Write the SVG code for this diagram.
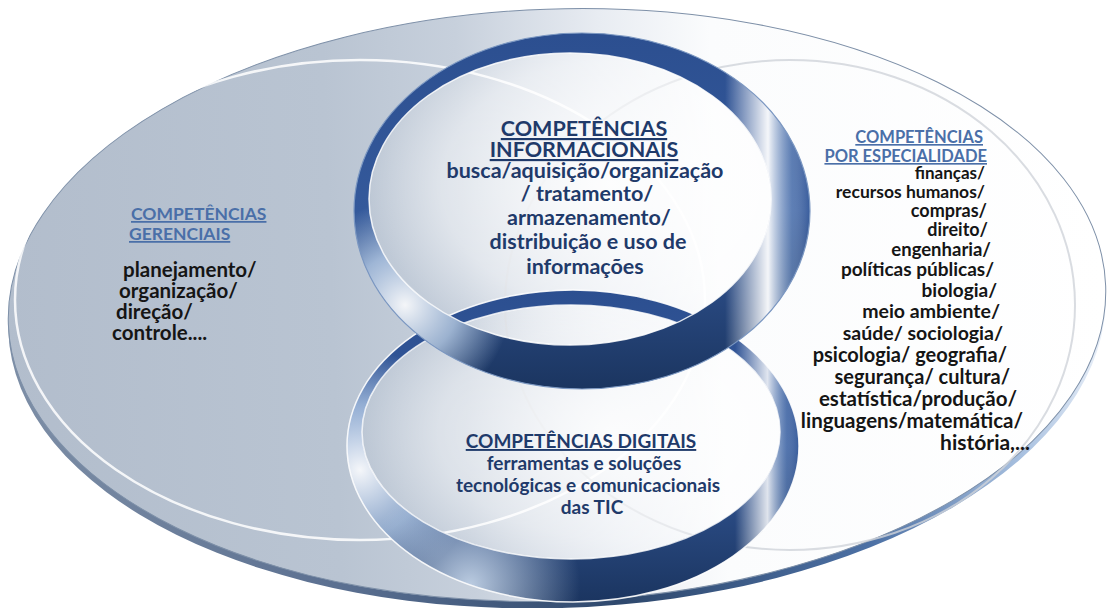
<svg xmlns="http://www.w3.org/2000/svg" width="1107" height="608" viewBox="0 0 1107 608">
<style>
  .t { font-family: Lato, "Liberation Sans", sans-serif; font-weight: 700; }
  .navy { fill: #1f3a6a; }
  .steel { fill: #4a6fa8; }
  .blk { fill: #151515; }
  .mid { text-anchor: middle; }
  .end { text-anchor: end; }
  .u { text-decoration: underline; }
</style>
<defs>
  <linearGradient id="discSide" x1="0" y1="0" x2="1" y2="0">
    <stop offset="0" stop-color="#7d8ea6"/>
    <stop offset="0.3" stop-color="#5a6f90"/>
    <stop offset="0.55" stop-color="#2e486d"/>
    <stop offset="0.78" stop-color="#4d71a5"/>
    <stop offset="0.92" stop-color="#a9c1e0"/>
    <stop offset="1" stop-color="#eef3fa"/>
  </linearGradient>
  <linearGradient id="discTop" gradientUnits="userSpaceOnUse" x1="0" y1="0" x2="1107" y2="0">
    <stop offset="0" stop-color="#b2bdcc"/>
    <stop offset="0.3" stop-color="#b9c4d2"/>
    <stop offset="0.42" stop-color="#c7d0dc"/>
    <stop offset="0.55" stop-color="#e8ecf2"/>
    <stop offset="0.65" stop-color="#fbfcfd"/>
    <stop offset="1" stop-color="#ffffff"/>
  </linearGradient>
  <radialGradient id="glowTop" cx="0.6" cy="0.45" r="0.6">
    <stop offset="0" stop-color="#ffffff" stop-opacity="0.9"/>
    <stop offset="0.7" stop-color="#ffffff" stop-opacity="0.45"/>
    <stop offset="1" stop-color="#ffffff" stop-opacity="0"/>
  </radialGradient>
  <radialGradient id="glowBot" cx="0.6" cy="0.5" r="0.6">
    <stop offset="0" stop-color="#ffffff" stop-opacity="0.85"/>
    <stop offset="0.7" stop-color="#ffffff" stop-opacity="0.4"/>
    <stop offset="1" stop-color="#ffffff" stop-opacity="0"/>
  </radialGradient>
  <linearGradient id="navyV" x1="0" y1="0" x2="0" y2="1">
    <stop offset="0" stop-color="#2c4f90"/>
    <stop offset="0.5" stop-color="#34599b"/>
    <stop offset="1" stop-color="#1b3560"/>
  </linearGradient>
  <radialGradient id="hlTopLL" gradientUnits="userSpaceOnUse" cx="405" cy="305" r="105">
    <stop offset="0" stop-color="#ffffff" stop-opacity="0.95"/>
    <stop offset="0.5" stop-color="#c4d8ef" stop-opacity="0.75"/>
    <stop offset="1" stop-color="#c4d8ef" stop-opacity="0"/>
  </radialGradient>
  <linearGradient id="hlTopR" gradientUnits="userSpaceOnUse" x1="725" y1="0" x2="811" y2="0">
    <stop offset="0" stop-color="#ffffff" stop-opacity="0"/>
    <stop offset="0.5" stop-color="#ffffff" stop-opacity="0.95"/>
    <stop offset="0.78" stop-color="#9db8dc" stop-opacity="0.4"/>
    <stop offset="1" stop-color="#ffffff" stop-opacity="0"/>
  </linearGradient>
  <radialGradient id="hlBotL" gradientUnits="userSpaceOnUse" cx="360" cy="470" r="120">
    <stop offset="0" stop-color="#ffffff" stop-opacity="0.95"/>
    <stop offset="0.55" stop-color="#bcd2ec" stop-opacity="0.7"/>
    <stop offset="1" stop-color="#bcd2ec" stop-opacity="0"/>
  </radialGradient>
  <radialGradient id="hlBotB" gradientUnits="userSpaceOnUse" cx="470" cy="585" r="110">
    <stop offset="0" stop-color="#d7e6f7" stop-opacity="0.85"/>
    <stop offset="1" stop-color="#d7e6f7" stop-opacity="0"/>
  </radialGradient>
  <linearGradient id="hlBotR" gradientUnits="userSpaceOnUse" x1="735" y1="0" x2="800" y2="0">
    <stop offset="0" stop-color="#ffffff" stop-opacity="0"/>
    <stop offset="0.5" stop-color="#ffffff" stop-opacity="0.85"/>
    <stop offset="0.8" stop-color="#9db8dc" stop-opacity="0.3"/>
    <stop offset="1" stop-color="#ffffff" stop-opacity="0"/>
  </linearGradient>
  <path id="ringTop" fill-rule="evenodd" d="M354,211 a228,178 0 1,0 456,0 a228,178 0 1,0 -456,0 Z M369,199 a201,146 0 1,0 402,0 a201,146 0 1,0 -402,0 Z"/>
  <path id="ringBot" fill-rule="evenodd" d="M347,446 a226,156 0 1,0 452,0 a226,156 0 1,0 -452,0 Z M362,432 a209,127 0 1,0 418,0 a209,127 0 1,0 -418,0 Z"/>
</defs>

<rect width="1107" height="608" fill="#ffffff"/>

<g id="disc">
  <ellipse cx="557" cy="312" rx="549" ry="296" transform="rotate(-2 557 312)" fill="url(#discSide)"/>
  <ellipse cx="557" cy="305" rx="549" ry="296" transform="rotate(-2 557 305)" fill="url(#discTop)" stroke="#7e90a8" stroke-width="1"/>
  <ellipse cx="360" cy="300" rx="345" ry="240" fill="none" stroke="#ffffff" stroke-width="2.5" stroke-opacity="0.85"/>
  <ellipse cx="790" cy="305" rx="285" ry="245" fill="none" stroke="#cfd3d9" stroke-width="2" stroke-opacity="0.8"/>
  <ellipse cx="570" cy="199" rx="201" ry="146" fill="url(#glowTop)"/>
  <ellipse cx="571" cy="432" rx="209" ry="127" fill="url(#glowBot)"/>
</g>

<g id="ring-digitais">
  <use href="#ringBot" fill="url(#navyV)"/>
  <use href="#ringBot" fill="url(#hlBotL)"/>
  <use href="#ringBot" fill="url(#hlBotB)"/>
  <use href="#ringBot" fill="url(#hlBotR)"/>
  <ellipse cx="573" cy="446" rx="226" ry="156" fill="none" stroke="#ffffff" stroke-width="1.5" stroke-opacity="0.9"/>
  <ellipse cx="571" cy="432" rx="209" ry="127" fill="none" stroke="#ffffff" stroke-width="1.5" stroke-opacity="0.8"/>
</g>

<g id="ring-informacionais">
  <use href="#ringTop" fill="url(#navyV)"/>
  <use href="#ringTop" fill="url(#hlTopLL)"/>
  <use href="#ringTop" fill="url(#hlTopR)"/>
  <ellipse cx="582" cy="211" rx="228" ry="178" fill="none" stroke="#7c98c2" stroke-width="1.2"/>
  <ellipse cx="570" cy="199" rx="201" ry="146" fill="none" stroke="#ffffff" stroke-width="1.5" stroke-opacity="0.85"/>
</g>

<g id="node-informacionais" class="t navy mid" font-size="21.5">
  <text x="584" y="136" class="u">COMPETÊNCIAS</text>
  <text x="584" y="157" class="u">INFORMACIONAIS</text>
  <text x="585" y="178">busca/aquisição/organização</text>
  <text x="587" y="201">/ tratamento/</text>
  <text x="589" y="225">armazenamento/</text>
  <text x="588" y="249">distribuição e uso de</text>
  <text x="585" y="274">informações</text>
</g>

<g id="node-digitais" class="t navy mid" font-size="19">
  <text x="581" y="448" class="u">COMPETÊNCIAS DIGITAIS</text>
  <text x="584" y="470">ferramentas e soluções</text>
  <text x="588" y="492">tecnológicas e comunicacionais</text>
  <text x="592" y="514">das TIC</text>
</g>

<g id="node-gerenciais" class="t">
  <text x="131" y="220" font-size="17.5" class="steel u">COMPETÊNCIAS</text>
  <text x="129" y="240" font-size="17.5" class="steel u">GERENCIAIS</text>
  <text x="123" y="277" font-size="20.5" class="blk">planejamento/</text>
  <text x="119" y="298" font-size="20.5" class="blk">organização/</text>
  <text x="116" y="319" font-size="20.5" class="blk">direção/</text>
  <text x="112" y="340" font-size="20.5" class="blk">controle....</text>
</g>

<g id="node-especialidade" class="t end">
  <text x="983" y="143" font-size="16.5" class="steel u">COMPETÊNCIAS</text>
  <text x="987" y="162" font-size="16.5" class="steel u">POR ESPECIALIDADE</text>
  <text x="985" y="179" font-size="17" class="blk">finanças/</text>
  <text x="985" y="198" font-size="17.5" class="blk">recursos humanos/</text>
  <text x="987" y="217" font-size="18" class="blk">compras/</text>
  <text x="988" y="236" font-size="18" class="blk">direito/</text>
  <text x="991" y="256" font-size="18.5" class="blk">engenharia/</text>
  <text x="994" y="276" font-size="19" class="blk">políticas públicas/</text>
  <text x="997" y="297" font-size="19" class="blk">biologia/</text>
  <text x="1000" y="318" font-size="19.5" class="blk">meio ambiente/</text>
  <text x="1003" y="340" font-size="19.5" class="blk">saúde/ sociologia/</text>
  <text x="1007" y="362" font-size="20" class="blk">psicologia/ geografia/</text>
  <text x="1010" y="384" font-size="20" class="blk">segurança/ cultura/</text>
  <text x="1017" y="406" font-size="20.5" class="blk">estatística/produção/</text>
  <text x="1023" y="428" font-size="20.5" class="blk">linguagens/matemática/</text>
  <text x="1030" y="450" font-size="21" class="blk">história,...</text>
</g>

<g id="connectors"></g>
</svg>
